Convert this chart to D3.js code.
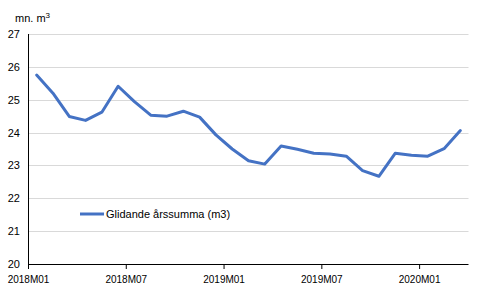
<!DOCTYPE html>
<html><head><meta charset="utf-8">
<script src="https://cdn.jsdelivr.net/npm/d3@7"></script>
<style>body{margin:0;background:#fff}svg{display:block}text{font-family:"Liberation Sans",Arial,sans-serif;fill:#000}</style>
</head><body><svg id="c" width="491" height="298"></svg>
<script>
const categories = ["2018M01","2018M02","2018M03","2018M04","2018M05","2018M06","2018M07","2018M08","2018M09","2018M10","2018M11","2018M12",
"2019M01","2019M02","2019M03","2019M04","2019M05","2019M06","2019M07","2019M08","2019M09","2019M10","2019M11","2019M12",
"2020M01","2020M02","2020M03"];
const values = [25.75,25.2,24.49,24.37,24.62,25.41,24.94,24.53,24.5,24.65,24.47,23.93,
23.5,23.14,23.04,23.59,23.49,23.37,23.35,23.28,22.84,22.67,23.37,23.31,23.28,23.51,24.06];
const yTicks = [20,21,22,23,24,25,26,27];
const xTickLabels = ["2018M01","2018M07","2019M01","2019M07","2020M01"];
const seriesName = "Glidande årssumma (m3)";

const svg = d3.select("#c");
const L = 28.5, R = 468.5, T = 34, B = 264;
const x = d3.scaleBand().domain(categories).range([L, R]);
const y = d3.scaleLinear().domain([20, 27]).range([B, T]);

// gridlines
svg.append("g").selectAll("line").data(yTicks.filter(d => d > 20)).join("line")
  .attr("x1", L).attr("x2", R).attr("y1", d => Math.round(y(d)) + 0.5).attr("y2", d => Math.round(y(d)) + 0.5)
  .attr("stroke", "#d9d9d9").attr("stroke-width", 1);

// y labels
svg.append("g").selectAll("text").data(yTicks).join("text")
  .attr("x", 20).attr("y", d => y(d) + 4).attr("text-anchor", "end").attr("font-size", 11).text(d => d);

// axes lines
svg.append("line").attr("x1", L).attr("x2", L).attr("y1", T).attr("y2", B).attr("stroke", "#000");
svg.append("line").attr("x1", L).attr("x2", R).attr("y1", B + 0.5).attr("y2", B + 0.5).attr("stroke", "#000");

// x ticks at category boundaries
svg.append("g").selectAll("line").data(xTickLabels).join("line")
  .attr("x1", d => x(d)).attr("x2", d => x(d)).attr("y1", B).attr("y2", B + 5).attr("stroke", "#000");
svg.append("g").selectAll("text").data(xTickLabels).join("text")
  .attr("x", d => x(d)).attr("y", B + 19).attr("text-anchor", "middle").attr("font-size", 10).text(d => d);

// line
const line = d3.line().x((d, i) => x(categories[i]) + x.bandwidth() / 2).y(d => y(d));
svg.append("path").datum(values).attr("d", line).attr("fill", "none")
  .attr("stroke", "#4472C4").attr("stroke-width", 3).attr("stroke-linejoin", "round").attr("stroke-linecap", "round");

// legend
svg.append("line").attr("x1", 80).attr("x2", 104).attr("y1", 214).attr("y2", 214).attr("stroke", "#4472C4").attr("stroke-width", 3);
svg.append("text").attr("x", 106).attr("y", 218).attr("font-size", 11).text(seriesName);

// unit label
const u = svg.append("text").attr("x", 15).attr("y", 22).attr("font-size", 11);
u.append("tspan").text("mn. m");
u.append("tspan").attr("dy", -4).attr("font-size", 8).text("3");
</script></body></html>
